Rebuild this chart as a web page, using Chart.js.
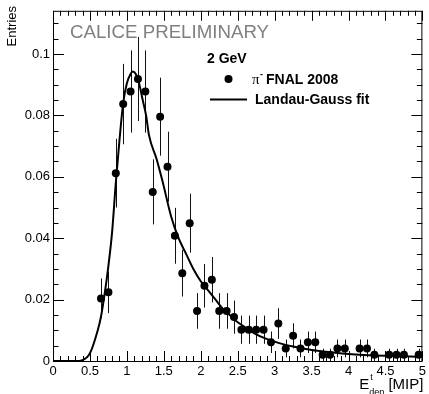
<!DOCTYPE html>
<html>
<head>
<meta charset="utf-8">
<title>Entries vs E_dep</title>
<style>
  html, body { margin: 0; padding: 0; background: #fff; }
  #wrap { width: 429px; height: 394px; }
</style>
</head>
<body>
<div id="wrap"><canvas id="myChart" width="429" height="394"></canvas></div>

<script src="https://cdn.jsdelivr.net/npm/chart.js"></script>

<script>
    // bin centres [MIP] and normalised entries, pi- FNAL 2008, 2 GeV
    const binCenters = [0.65, 0.75, 0.85, 0.95, 1.05, 1.15, 1.25, 1.35, 1.45, 1.55,
                        1.65, 1.75, 1.85, 1.95, 2.05, 2.15, 2.25, 2.35, 2.45, 2.55,
                        2.65, 2.75, 2.85, 2.95, 3.05, 3.15, 3.25, 3.35, 3.45, 3.55,
                        3.65, 3.75, 3.85, 3.95, 4.15, 4.25, 4.35, 4.55, 4.65, 4.75, 4.95];
    const entries = [0.0204, 0.0224, 0.0612, 0.0837, 0.0878, 0.0919, 0.0878, 0.0551, 0.0796, 0.0633,
                     0.0408, 0.0286, 0.0449, 0.0163, 0.0245, 0.0265, 0.0163, 0.0163, 0.0143, 0.0102,
                     0.0102, 0.0102, 0.0102, 0.0061, 0.0122, 0.0041, 0.0082, 0.0041, 0.0061, 0.0061,
                     0.0020, 0.0020, 0.0041, 0.0041, 0.0041, 0.0041, 0.0020, 0.0020, 0.0020, 0.0020, 0.0020];
    const entryErrors = [0.0065, 0.0068, 0.0112, 0.0131, 0.0134, 0.0137, 0.0134, 0.0106, 0.0127, 0.0114,
                         0.0091, 0.0076, 0.0096, 0.0058, 0.0071, 0.0074, 0.0058, 0.0058, 0.0054, 0.0046,
                         0.0046, 0.0046, 0.0046, 0.0035, 0.0050, 0.0029, 0.0041, 0.0029, 0.0035, 0.0035,
                         0.0020, 0.0020, 0.0029, 0.0029, 0.0029, 0.0029, 0.0020, 0.0020, 0.0020, 0.0020, 0.0020];

    // Landau (x) Gauss fit curve
    const fitX = [0, 0.3, 0.4, 0.5, 0.6, 0.65, 0.7, 0.75, 0.8, 0.85, 0.9, 0.95, 1.0, 1.05, 1.08,
                  1.12, 1.17, 1.21, 1.26, 1.3, 1.4, 1.48, 1.6, 1.7, 1.8, 1.9, 2.0, 2.1, 2.2, 2.3,
                  2.4, 2.5, 2.6, 2.75, 3.0, 3.25, 3.5, 3.75, 4.0, 4.5, 5.0];
    const fitY = [0, 0, 0.0003, 0.0025, 0.0095, 0.0145, 0.022, 0.031, 0.042, 0.058, 0.072, 0.084, 0.0905, 0.0935, 0.0943,
                  0.0935, 0.090, 0.0855, 0.080, 0.0735, 0.066, 0.0588, 0.047, 0.040, 0.035, 0.030, 0.026, 0.023, 0.020, 0.017,
                  0.0148, 0.0126, 0.011, 0.0087, 0.0063, 0.0047, 0.0036, 0.0029, 0.0023, 0.0017, 0.0014];

    const xTicks = [0, 0.5, 1, 1.5, 2, 2.5, 3, 3.5, 4, 4.5, 5];
    const yTicks = [0, 0.02, 0.04, 0.06, 0.08, 0.1];

    const SANS = "'Liberation Sans', Arial, Helvetica, sans-serif";
    Chart.defaults.font.family = SANS;
    Chart.defaults.font.size = 13;
    Chart.defaults.color = '#000';

    // vertical error bars under the markers
    const errorBars = {
        id: 'errorBars',
        beforeDatasetsDraw(chart) {
            const { ctx, scales: { x, y } } = chart;
            ctx.save();
            ctx.strokeStyle = '#111';
            ctx.lineWidth = 1;
            binCenters.forEach((c, i) => {
                const px = Math.round(x.getPixelForValue(c)) + 0.5;
                ctx.beginPath();
                ctx.moveTo(px, y.getPixelForValue(Math.max(0, entries[i] - entryErrors[i])));
                ctx.lineTo(px, y.getPixelForValue(entries[i] + entryErrors[i]));
                ctx.stroke();
            });
            ctx.restore();
        }
    };

    // frame with inward ticks on all four sides, titles and legend
    const frame = {
        id: 'frame',
        afterDraw(chart) {
            const { ctx, chartArea: a, scales: { x, y } } = chart;
            ctx.save();
            ctx.strokeStyle = '#000';
            ctx.lineWidth = 1;
            ctx.strokeRect(a.left + 0.5, a.top + 0.5, a.right - a.left - 1, a.bottom - a.top);

            ctx.beginPath();
            for (let i = 0; i <= 50; i++) {
                const v = i / 10;
                const px = Math.round(x.getPixelForValue(v)) + 0.5;
                const len = i % 5 === 0 ? 10 : 5;
                ctx.moveTo(px, a.bottom); ctx.lineTo(px, a.bottom - len);
                ctx.moveTo(px, a.top); ctx.lineTo(px, a.top + len);
            }
            for (let i = 0; i <= 22; i++) {
                const v = i * 0.005;
                const py = Math.round(y.getPixelForValue(v)) + 0.5;
                const len = i % 4 === 0 ? 11 : 5.5;
                ctx.moveTo(a.left, py); ctx.lineTo(a.left + len, py);
                ctx.moveTo(a.right, py); ctx.lineTo(a.right - len, py);
            }
            ctx.stroke();

            // preliminary stamp
            ctx.fillStyle = '#808080';
            ctx.font = '18.7px ' + SANS;
            ctx.textBaseline = 'alphabetic';
            ctx.textAlign = 'left';
            ctx.fillText('CALICE PRELIMINARY', 70, 38);

            // y title
            ctx.fillStyle = '#000';
            ctx.save();
            ctx.translate(16, 6);
            ctx.rotate(-Math.PI / 2);
            ctx.textAlign = 'right';
            ctx.font = '13px ' + SANS;
            ctx.fillText('Entries', 0, 0);
            ctx.restore();

            // x title: E^t_dep [MIP], right-aligned to axis end
            ctx.textAlign = 'left';
            const big = '15px ' + SANS, small = '9px ' + SANS;
            ctx.font = big;
            const wE = ctx.measureText('E').width;
            const wMip = ctx.measureText(' [MIP]').width;
            ctx.font = small;
            const wDep = ctx.measureText('dep').width;
            let xs = a.right + 1 - wMip - wDep - wE;
            ctx.font = big;
            ctx.fillText('E', xs, 389);
            ctx.font = small;
            ctx.fillText('t', xs + wE + 1, 380);
            ctx.fillText('dep', xs + wE, 395);
            ctx.font = big;
            ctx.fillText(' [MIP]', xs + wE + wDep, 389);

            // legend
            ctx.font = 'bold 14px ' + SANS;
            ctx.fillText('2 GeV', 207, 63);
            ctx.beginPath();
            ctx.arc(228.5, 79, 4, 0, Math.PI * 2);
            ctx.fill();
            ctx.font = "15px 'Liberation Serif', 'DejaVu Serif', serif";
            ctx.fillText('π', 252, 84);
            ctx.font = 'bold 9px ' + SANS;
            ctx.fillText('-', 260, 77);
            ctx.font = 'bold 14px ' + SANS;
            ctx.fillText('FNAL 2008', 266, 84);
            ctx.lineWidth = 2;
            ctx.beginPath();
            ctx.moveTo(210, 99.5); ctx.lineTo(247, 99.5);
            ctx.stroke();
            ctx.fillText('Landau-Gauss fit', 255, 104);
            ctx.restore();
        }
    };

    const ctx = document.getElementById('myChart');

    new Chart(ctx, {
        type: 'scatter',
        data: {
            datasets: [{
                label: 'Landau-Gauss fit',
                data: fitX.map((v, i) => ({ x: v, y: fitY[i] })),
                showLine: true,
                pointRadius: 0,
                borderColor: '#000',
                borderWidth: 2,
                cubicInterpolationMode: 'monotone',
                order: 0
            }, {
                label: 'pi- FNAL 2008',
                data: binCenters.map((v, i) => ({ x: v, y: entries[i] })),
                pointRadius: 4,
                pointBackgroundColor: '#000',
                pointBorderWidth: 0,
                order: 1
            }]
        },
        options: {
            responsive: false,
            animation: false,
            layout: { padding: { left: 0, top: 10, right: 3, bottom: 0 } },
            plugins: { legend: { display: false }, tooltip: { enabled: false } },
            scales: {
                x: {
                    type: 'linear',
                    min: 0,
                    max: 5,
                    grid: { display: false, drawTicks: false },
                    border: { display: false },
                    afterBuildTicks: s => { s.ticks = xTicks.map(v => ({ value: v })); },
                    afterFit: s => { s.height = 33; },
                    ticks: { padding: 3, maxRotation: 0, autoSkip: false, callback: v => String(v) }
                },
                y: {
                    type: 'linear',
                    min: 0,
                    max: 0.1141,
                    grid: { display: false, drawTicks: false },
                    border: { display: false },
                    afterBuildTicks: s => { s.ticks = yTicks.map(v => ({ value: v })); },
                    afterFit: s => { s.width = 53; },
                    ticks: { padding: 3, autoSkip: false, callback: v => String(v) }
                }
            }
        },
        plugins: [errorBars, frame]
    });
</script>
</body>
</html>
